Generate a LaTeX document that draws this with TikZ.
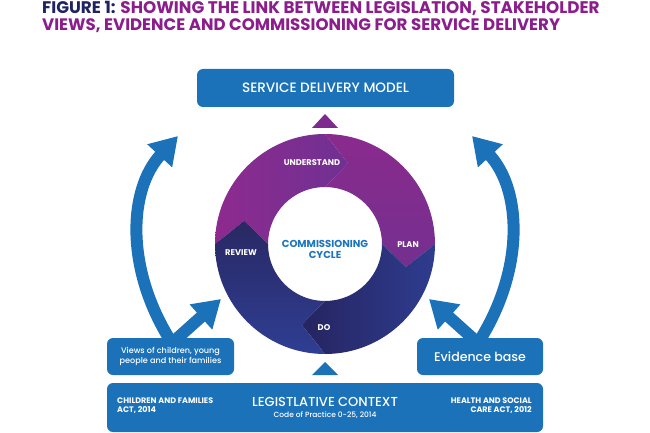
\documentclass[tikz,border=0pt]{standalone}
\usepackage{fontspec}
\setmainfont{Poppins}
\newfontfamily\popmed{Poppins Medium}
\usetikzlibrary{arrows.meta,shadings}
\definecolor{boxblue}{HTML}{1B72B9}
\definecolor{tnavy}{HTML}{1F2461}
\definecolor{tpurple}{HTML}{8C1D8C}
\definecolor{cblue}{HTML}{1C75BC}
\definecolor{tripurple}{HTML}{7E2B8F}
\definecolor{undA}{HTML}{8E2A8F}
\definecolor{undB}{HTML}{6F3192}
\definecolor{planA}{HTML}{8A2A8E}
\definecolor{planB}{HTML}{74308F}
\definecolor{doA}{HTML}{262460}
\definecolor{doB}{HTML}{2E3C8F}
\definecolor{revA}{HTML}{292863}
\definecolor{revB}{HTML}{2F3E93}
\begin{document}
\begin{tikzpicture}[x=1pt,y=-1pt,
  box/.style={fill=boxblue, rounded corners=6pt, text=white, align=center, inner sep=0pt},
  bigarrow/.style={draw=boxblue, line width=12pt, -{Triangle[width=32pt,length=27pt]}},
  seglabel/.style={text=white, inner sep=0pt, font=\fontsize{8.3}{9}\selectfont\bfseries},
  smalltext/.style={text=white, inner sep=0pt, align=left, font=\fontsize{8}{9.2}\selectfont\bfseries}]
\useasboundingbox (0,0) rectangle (650,433);
\fill[white] (0,0) rectangle (650,433);

% title
\node[anchor=base west, inner sep=0pt, font=\fontsize{16.8}{17}\selectfont\bfseries] (t1) at (42,13.5)
  {\textcolor{tnavy}{FIGURE 1:} \textcolor{tpurple}{SHOWING THE LINK BETWEEN LEGISLATION, STAKEHOLDER}};
\node[anchor=base west, inner sep=0pt, font=\fontsize{16.6}{17}\selectfont\bfseries] (t2) at (42,30.5)
  {\textcolor{tpurple}{VIEWS, EVIDENCE AND COMMISSIONING FOR SERVICE DELIVERY}};

% arrows
\coordinate (lb) at (172,343);
\coordinate (lt) at (178,136);
\coordinate (ls) at (221,299);
\coordinate (rb) at (478,343);
\coordinate (rt) at (472,136);
\coordinate (rs) at (429,299);
\draw[bigarrow] (lb) .. controls (125,270) and (128,190) .. (lt);
\draw[bigarrow] (lb) -- (ls);
\draw[bigarrow] (rb) .. controls (525,270) and (522,190) .. (rt);
\draw[bigarrow] (rb) -- (rs);

% top box
\node[box, minimum width=257pt, minimum height=38pt, font=\fontsize{13.6}{14}\popmed] (sdm) at (325.5,88)
  {SERVICE DELIVERY MODEL};
\fill[tripurple] (325,114) -- (338,128) -- (312,128) -- cycle;

% ring
\coordinate (ctr) at (325,244);
\begin{scope}[shift={(ctr)}, y=1pt]
  \shade[left color=undA, right color=undB]
    (180:110) arc[start angle=180, end angle=90, radius=110] -- (74:84) --
    (90:57) arc[start angle=90, end angle=180, radius=57] -- (164:84) -- cycle;
  \shade[top color=planA, bottom color=planB]
    (90:110) arc[start angle=90, end angle=0, radius=110] -- (-16:84) --
    (0:57) arc[start angle=0, end angle=90, radius=57] -- (74:84) -- cycle;
  \shade[left color=doA, right color=doB]
    (0:110) arc[start angle=0, end angle=-90, radius=110] -- (-106:84) --
    (-90:57) arc[start angle=-90, end angle=0, radius=57] -- (-16:84) -- cycle;
  \shade[top color=revA, bottom color=revB]
    (-90:110) arc[start angle=-90, end angle=-180, radius=110] -- (164:84) --
    (-180:57) arc[start angle=-180, end angle=-90, radius=57] -- (-106:84) -- cycle;
  \node[seglabel] (und) at (-13,81) {UNDERSTAND};
  \node[seglabel] (plan) at (83,-1) {PLAN};
  \node[seglabel] (do) at (-1,-84) {DO};
  \node[seglabel] (rev) at (-84,-9) {REVIEW};
  \node[align=center, inner sep=0pt, text=cblue, font=\fontsize{10.1}{11}\selectfont\bfseries] (cc) at (0,-5)
    {COMMISSIONING\\CYCLE};
\end{scope}

% lower boxes
\node[box, minimum width=127pt, minimum height=37pt, font=\fontsize{8.1}{9.8}\popmed] (views) at (170.5,356.5)
  {Views of children, young\\people and their families};
\node[box, minimum width=126pt, minimum height=37pt, font=\fontsize{12.6}{13}\popmed] (evid) at (480,356.5)
  {Evidence base};
\fill[boxblue] (325,362) -- (338,375) -- (312,375) -- cycle;

\node[box, minimum width=436pt, minimum height=49pt] (leg) at (325,407.5) {};
\node[anchor=base, inner sep=0pt, text=white, font=\fontsize{13}{14}\popmed] (legt) at (325,406)
  {LEGISTLATIVE CONTEXT};
\node[anchor=base, inner sep=0pt, text=white, font=\fontsize{7.5}{8}\popmed] (code) at (325,417.5)
  {Code of Practice 0-25, 2014};
\node[smalltext, anchor=north west] (cfa) at (117,397.3) {CHILDREN AND FAMILIES\\ACT, 2014};
\node[smalltext, anchor=north east, align=right] (hsc) at (532,397.3) {HEALTH AND SOCIAL\\CARE ACT, 2012};
\end{tikzpicture}
\end{document}
